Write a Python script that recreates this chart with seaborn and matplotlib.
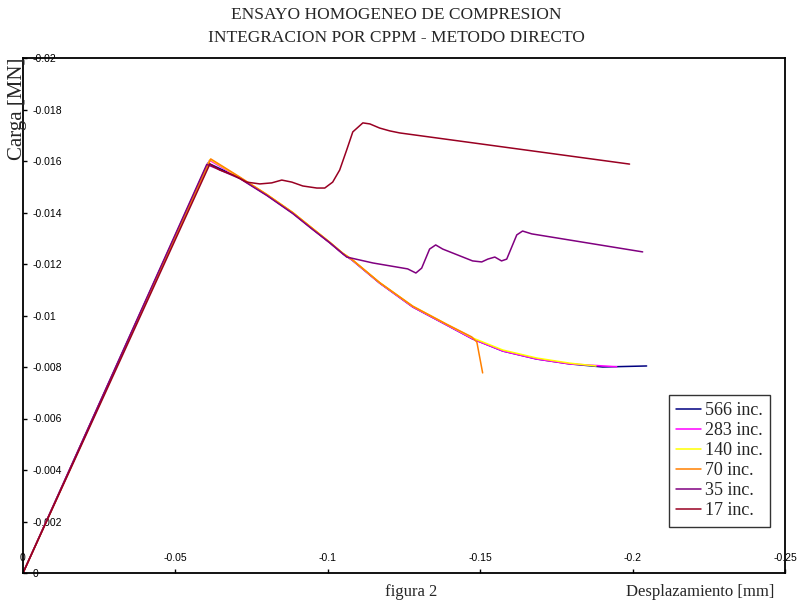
import matplotlib
matplotlib.use("Agg")
import matplotlib.pyplot as plt
from matplotlib.ticker import FuncFormatter, MultipleLocator
import pandas as pd
import seaborn as sns

# ── Data ──────────────────────────────────────────────────────────────────────
LABELS = ["566 inc.", "283 inc.", "140 inc.", "70 inc.", "35 inc.", "17 inc."]
COLORS = ["#000080", "#FF00FF", "#FFFF00", "#FF8000", "#800080", "#990022"]

x_566 = [0, -0.0607, -0.0711, -0.0800, -0.0885, -0.0948, -0.1007, -0.1049, -0.1079,
         -0.1170, -0.1279, -0.1390, -0.1475, -0.1574, -0.1685, -0.1793, -0.1902, -0.2046]
y_566 = [0, -0.01592, -0.01534, -0.01468, -0.01398, -0.01338, -0.01282, -0.01240, -0.01216,
         -0.01126, -0.01033, -0.00963, -0.00909, -0.00862, -0.00831, -0.00812, -0.00800, -0.00804]

x_283 = [0, -0.0612, -0.0711, -0.0800, -0.0885, -0.0948, -0.1007, -0.1049, -0.1079,
         -0.1170, -0.1279, -0.1390, -0.1475, -0.1574, -0.1685, -0.1793, -0.1948]
y_283 = [0, -0.01603, -0.01534, -0.01468, -0.01398, -0.01338, -0.01282, -0.01240, -0.01216,
         -0.01126, -0.01033, -0.00963, -0.00909, -0.00862, -0.00831, -0.00812, -0.00801]

x_140 = [0, -0.0614, -0.0711, -0.0800, -0.0885, -0.0948, -0.1007, -0.1049, -0.1079,
         -0.1170, -0.1279, -0.1390, -0.1475, -0.1574, -0.1685, -0.1793, -0.1880]
y_140 = [0, -0.01606, -0.01536, -0.01470, -0.01400, -0.01340, -0.01284, -0.01242, -0.01218,
         -0.01128, -0.01036, -0.00966, -0.00913, -0.00866, -0.00835, -0.00815, -0.00804]

x_70 = [0, -0.0616, -0.0711, -0.0800, -0.0885, -0.0948, -0.1007, -0.1049, -0.1079,
        -0.1170, -0.1279, -0.1390, -0.1472, -0.1489, -0.1508]
y_70 = [0, -0.01608, -0.01538, -0.01470, -0.01400, -0.01340, -0.01284, -0.01242, -0.01218,
        -0.01128, -0.01036, -0.00966, -0.00917, -0.00897, -0.00777]

x_35 = [0, -0.0603, -0.0711, -0.0800, -0.0885, -0.0948, -0.1007, -0.1049, -0.1062, -0.1148,
        -0.1262, -0.1289, -0.1308, -0.1334, -0.1354, -0.1377, -0.1475, -0.1505, -0.1525,
        -0.1548, -0.1570, -0.1587, -0.1620, -0.1639, -0.1669, -0.2033]
y_35 = [0, -0.01587, -0.01532, -0.01466, -0.01396, -0.01336, -0.01282, -0.01240, -0.01227, -0.01204,
        -0.01181, -0.01165, -0.01184, -0.01258, -0.01274, -0.01258, -0.01212, -0.01208, -0.01219,
        -0.01227, -0.01212, -0.01219, -0.01313, -0.01328, -0.01317, -0.01247]

x_17 = [0, -0.0613, -0.0646, -0.0689, -0.0734, -0.0777, -0.0816, -0.0849, -0.0882, -0.0918,
        -0.0964, -0.0990, -0.1016, -0.1039, -0.1062, -0.1082, -0.1115, -0.1138, -0.1170,
        -0.1203, -0.1236, -0.1990]
y_17 = [0, -0.01588, -0.01565, -0.01546, -0.01518, -0.01511, -0.01515, -0.01526, -0.01518, -0.01503,
        -0.01495, -0.01495, -0.01518, -0.01565, -0.01643, -0.01713, -0.01748, -0.01744, -0.01728,
        -0.01717, -0.01709, -0.01588]

SERIES = [(x_566, y_566), (x_283, y_283), (x_140, y_140),
          (x_70, y_70), (x_35, y_35), (x_17, y_17)]

X_TICKS = [0, -0.05, -0.1, -0.15, -0.2, -0.25]

frames = []
for label, (xs, ys) in zip(LABELS, SERIES):
    frames.append(pd.DataFrame({"x": xs, "y": ys, "serie": label}))
df = pd.concat(frames, ignore_index=True)

# ── Figure ────────────────────────────────────────────────────────────────────
sns.set_style("white")
plt.rcParams["font.family"] = ["Liberation Sans", "DejaVu Sans"]
SERIF = ["Liberation Serif", "DejaVu Serif"]

fig = plt.figure(figsize=(7.97, 6.08), dpi=100)
ax = fig.add_axes([23 / 797, 35 / 608, 762 / 797, 515 / 608])

sns.lineplot(data=df, x="x", y="y", hue="serie", hue_order=LABELS,
             palette=COLORS, sort=False, estimator=None, linewidth=1.1, ax=ax)

ax.set_xlim(0, -0.25)
ax.set_ylim(0, -0.02)
ax.set_xticks(X_TICKS)
ax.yaxis.set_major_locator(MultipleLocator(0.002))
fmt = FuncFormatter(lambda v, p: "0" if abs(v) < 1e-12 else "%g" % v)
ax.xaxis.set_major_formatter(fmt)
ax.yaxis.set_major_formatter(fmt)
ax.set_xlabel("")
ax.set_ylabel("")

for s in ax.spines.values():
    s.set_visible(True)
    s.set_color("black")
    s.set_linewidth(1.3)

ax.tick_params(axis="x", direction="in", length=3, width=1, pad=-7,
               labelsize=7.5, colors="black", bottom=True)
ax.tick_params(axis="y", direction="in", length=3, width=1, pad=-7,
               labelsize=7.5, colors="black", left=True)
for t in ax.get_xticklabels():
    t.set_va("bottom")
for t in ax.get_yticklabels():
    t.set_ha("left")

leg = ax.legend(loc="upper left", bbox_to_anchor=(0.848, 0.346), borderaxespad=0,
                prop={"family": SERIF, "size": 13}, frameon=True, fancybox=False,
                edgecolor="black", handlelength=1.35, handletextpad=0.25,
                labelspacing=0.17, borderpad=0.4)
leg.get_frame().set_linewidth(1.0)

fig.text(0.497, 1 - 15 / 608, "ENSAYO HOMOGENEO DE COMPRESION", ha="center", va="center",
         family=SERIF, fontsize=12.5)
fig.text(0.497, 1 - 38 / 608, "INTEGRACION POR CPPM - METODO DIRECTO", ha="center",
         va="center", family=SERIF, fontsize=12.5)
fig.text(18 / 797, 1 - 109 / 608, "Carga [MN]", rotation=90, ha="center", va="center",
         family=SERIF, fontsize=15)
fig.text(411 / 797, 1 - 592 / 608, "figura 2", ha="center", va="center",
         family=SERIF, fontsize=12)
fig.text(700 / 797, 1 - 592 / 608, "Desplazamiento [mm]", ha="center", va="center",
         family=SERIF, fontsize=12)

fig.savefig("out.png", dpi=100, facecolor="white")
